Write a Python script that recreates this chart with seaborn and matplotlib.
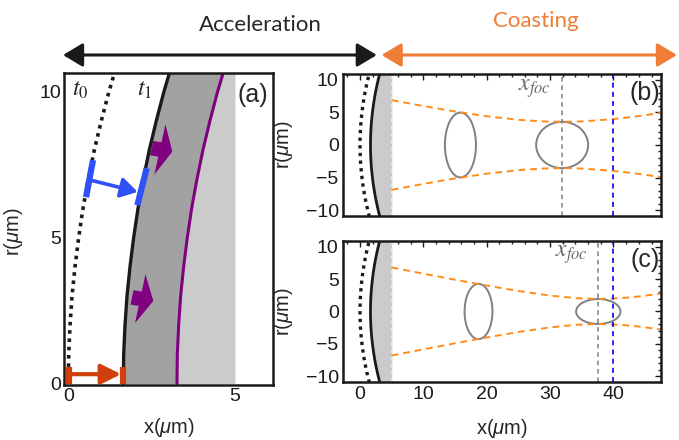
import numpy as np
import matplotlib
matplotlib.use('Agg')
import matplotlib.pyplot as plt
from matplotlib.patches import Ellipse, FancyArrowPatch
import seaborn as sns

# ---- data ----
# front shapes (x in um as a function of r in um), panel (a)
front_r = np.array([0, 1, 2, 3, 4, 5, 6, 7, 8, 9, 10, 11])
t0_x = np.array([0.0, 0.01, 0.05, 0.11, 0.20, 0.31, 0.44, 0.60, 0.78, 0.99, 1.22, 1.48])
t1_x = np.array([1.65, 1.66, 1.70, 1.76, 1.85, 1.96, 2.09, 2.25, 2.43, 2.64, 2.87, 3.13])
purple_x = np.array([3.26, 3.27, 3.31, 3.37, 3.46, 3.57, 3.70, 3.86, 4.04, 4.25, 4.48, 4.74])
target_x = 5.0

# beam envelope (half width) panel (b) and (c)
env_x = np.array([5, 10, 15, 20, 25, 29, 32, 35, 40, 44, 48])
env_b = np.array([6.88, 5.97, 5.13, 4.40, 3.86, 3.61, 3.55, 3.61, 3.97, 4.43, 5.0])
env_c_x = np.array([5, 10, 15, 20, 25, 30, 34, 37.6, 41, 44, 48])
env_c = np.array([6.8, 5.85, 4.91, 4.01, 3.17, 2.46, 2.06, 1.93, 2.05, 2.32, 2.84])

# bunches (center x, width, height)
ell_b = [(15.85, 4.9, 9.95), (31.9, 8.2, 7.1)]
ell_c = [(18.7, 4.4, 8.55), (37.6, 7.0, 3.85)]
xfoc_b = 31.9
xfoc_c = 37.6
x_det = 40

gray_dark = '#a2a2a2'
gray_light = '#cbcbcb'
purple = '#800080'
blue = '#3050f8'
red = '#d1400c'
orange = '#ff8c1a'
orange_top = '#ee7d36'

sns.set_theme(style='white')
plt.rcParams['font.family'] = ['Liberation Sans', 'DejaVu Sans']
plt.rcParams['mathtext.fontset'] = 'custom'
plt.rcParams['mathtext.rm'] = 'Liberation Sans'
plt.rcParams['mathtext.it'] = 'Liberation Sans:italic'
plt.rcParams['axes.unicode_minus'] = True

fig = plt.figure(figsize=(6.79, 4.4), dpi=100)
ax_a = fig.add_axes([0.0943, 0.125, 0.3077, 0.709])
ax_b = fig.add_axes([0.505, 0.509, 0.4685, 0.323])
ax_c = fig.add_axes([0.505, 0.1318, 0.4685, 0.3205])

# ---- panel (a) ----
ax = ax_a
ax.fill_betweenx(front_r, t1_x, purple_x, color=gray_dark, lw=0)
ax.fill_betweenx(front_r, purple_x, target_x, color=gray_light, lw=0)
sns.lineplot(x=t0_x, y=front_r, ax=ax, sort=False, estimator=None, color='k',
             lw=2.6, linestyle=(0, (1, 1.3)))
sns.lineplot(x=t1_x, y=front_r, ax=ax, sort=False, estimator=None, color='k', lw=2.4)
sns.lineplot(x=purple_x, y=front_r, ax=ax, sort=False, estimator=None, color=purple, lw=2.2)

# purple push arrows
ax.arrow(2.5, 8.06, 0.62, -0.12, width=0.5, head_width=1.75, head_length=0.38,
         length_includes_head=True, color=purple, lw=0)
ax.arrow(1.91, 2.95, 0.64, -0.12, width=0.5, head_width=1.7, head_length=0.4,
         length_includes_head=True, color=purple, lw=0)

# blue displacement marker
ax.plot([0.53, 0.74], [6.38, 7.65], color=blue, lw=4.5, solid_capstyle='butt')
ax.plot([2.07, 2.35], [6.1, 7.37], color=blue, lw=4.5, solid_capstyle='butt')
ax.annotate('', xy=(2.08, 6.56), xytext=(0.68, 6.96),
            arrowprops=dict(arrowstyle='-|>,head_length=0.5,head_width=0.3',
                            color=blue, lw=2.6, mutation_scale=20, shrinkA=0, shrinkB=0))

# red displacement marker
ax.plot([0.03, 0.03], [0.0, 0.57], color=red, lw=4.5, solid_capstyle='butt')
ax.plot([1.65, 1.65], [0.0, 0.57], color=red, lw=4.5, solid_capstyle='butt')
ax.annotate('', xy=(1.58, 0.32), xytext=(0.08, 0.32),
            arrowprops=dict(arrowstyle='-|>,head_length=0.6,head_width=0.3',
                            color=red, lw=3, mutation_scale=20, shrinkA=0, shrinkB=0))

ax.text(0.35, 10.05, r'$t_0$', ha='center', va='center', fontsize=17, math_fontfamily='stix')
ax.text(2.29, 10.05, r'$t_1$', ha='center', va='center', fontsize=17, math_fontfamily='stix')
ax.text(0.975, 0.93, '(a)', transform=ax.transAxes, ha='right', va='center', fontsize=18)

ax.set_xlim(-0.13, 6.14)
ax.set_ylim(-0.05, 10.63)
ax.set_xticks([0, 5])
ax.set_yticks([0, 5, 10])
ax.tick_params(direction='in', length=3, width=1, labelsize=14, pad=2, colors='k')
ax.set_xlabel(r'x($\mu$m)', fontsize=14.5)
ax.set_ylabel(r'r($\mu$m)', fontsize=14.5)
ax.xaxis.set_label_coords(0.5, -0.1)
ax.yaxis.set_label_coords(-0.187, 0.49)

# ---- panels (b) and (c) ----
r_full = np.concatenate([-front_r[::-1], front_r[1:]])
t0_full = np.concatenate([t0_x[::-1], t0_x[1:]])
t1_full = np.concatenate([t1_x[::-1], t1_x[1:]])

panels = [(ax_b, env_x, env_b, ell_b, xfoc_b, '(b)', 8.7),
          (ax_c, env_c_x, env_c, ell_c, xfoc_c, '(c)', 8.85)]
for ax, ex, ew, ells, xfoc, lab, xf_y in panels:
    ax.fill_betweenx(r_full, t1_full, target_x, color=gray_light, lw=0)
    ax.axvline(target_x, color='#ececec', lw=1.3, linestyle=(0, (2, 2)))
    sns.lineplot(x=t0_full, y=r_full, ax=ax, sort=False, estimator=None, color='k',
                 lw=2.4, linestyle=(0, (1, 1.3)))
    sns.lineplot(x=t1_full, y=r_full, ax=ax, sort=False, estimator=None, color='k', lw=2.0)
    sns.lineplot(x=ex, y=ew, ax=ax, sort=False, estimator=None, color=orange,
                 lw=1.4, linestyle=(0, (3.5, 2.5)))
    sns.lineplot(x=ex, y=-ew, ax=ax, sort=False, estimator=None, color=orange,
                 lw=1.4, linestyle=(0, (3.5, 2.5)))
    for cx, w, h in ells:
        ax.add_patch(Ellipse((cx, 0), w, h, fill=False, ec='#808080', lw=1.4))
    ax.axvline(xfoc, color='#808080', lw=1.1, linestyle=(0, (3, 2.5)))
    ax.axvline(x_det, color='#0000ff', lw=1.2, linestyle=(0, (3, 2.5)))
    ax.text(xfoc - 4.3, xf_y, r'$x_{foc}$', ha='center', va='center', fontsize=17,
            color='#666666', math_fontfamily='stix')
    ax.text(0.997, 0.866, lab, transform=ax.transAxes, ha='right', va='center', fontsize=18)

    ax.set_xlim(-2.7, 47.5)
    ax.set_ylim(-10.9, 10.9)
    ax.set_xticks([0, 10, 20, 30, 40])
    ax.set_xticks(np.arange(-2, 48, 2), minor=True)
    ax.set_yticks([-10, -5, 0, 5, 10])
    ax.set_yticks(np.arange(-10, 11, 1), minor=True)
    ax.tick_params(which='both', direction='in', top=True, right=True, width=1, colors='k')
    ax.tick_params(which='major', length=4, labelsize=14, pad=3)
    ax.tick_params(which='minor', length=2)
    ax.set_ylabel(r'r($\mu$m)', fontsize=14.5)
    ax.yaxis.set_label_coords(-0.151, 0.5)

ax_b.tick_params(labelbottom=False)
ax_c.set_xlabel(r'x($\mu$m)', fontsize=14.5)
ax_c.xaxis.set_label_coords(0.5, -0.245)

for ax in (ax_a, ax_b, ax_c):
    for s in ax.spines.values():
        s.set_visible(True)
        s.set_color('k')
        s.set_linewidth(1.8)

# ---- top phase arrows ----
fig.add_artist(FancyArrowPatch((0.0928, 0.875), (0.555, 0.875), transform=fig.transFigure,
                               arrowstyle='<|-|>,head_length=0.6,head_width=0.36',
                               mutation_scale=20, color='k', lw=2.2, shrinkA=0, shrinkB=0))
fig.add_artist(FancyArrowPatch((0.562, 0.875), (0.997, 0.875), transform=fig.transFigure,
                               arrowstyle='<|-|>,head_length=0.6,head_width=0.36',
                               mutation_scale=20, color=orange_top, lw=2.2, shrinkA=0, shrinkB=0))
fig.text(0.384, 0.943, 'Acceleration', ha='center', va='center', fontsize=16, family='Lato')
fig.text(0.789, 0.952, 'Coasting', ha='center', va='center', fontsize=16, family='Lato',
         color=orange_top)

fig.savefig('out.png', dpi=100)
